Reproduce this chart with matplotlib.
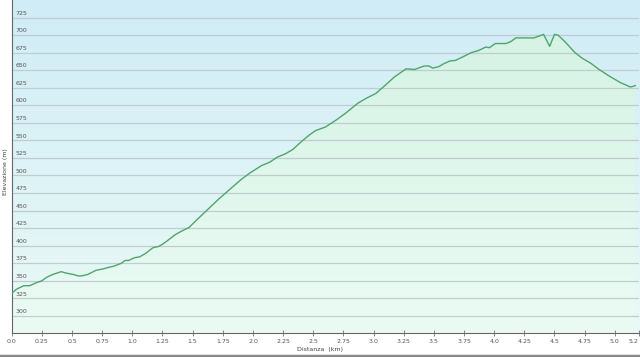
import numpy as np
import matplotlib
matplotlib.use("Agg")
import matplotlib.pyplot as plt
from matplotlib.colors import LinearSegmentedColormap

# distance (km) / elevation (m)
dist = [0.0, 0.04, 0.10, 0.15, 0.20, 0.25, 0.29, 0.34, 0.41, 0.45, 0.51, 0.55, 0.58,
        0.63, 0.70, 0.76, 0.80, 0.85, 0.91, 0.94, 0.97, 1.02, 1.06, 1.11, 1.17, 1.22,
        1.25, 1.29, 1.35, 1.40, 1.47, 1.56, 1.64, 1.72, 1.90, 1.97, 2.07, 2.14, 2.20,
        2.27, 2.33, 2.40, 2.47, 2.52, 2.60, 2.69, 2.77, 2.87, 2.94, 3.02, 3.10, 3.17,
        3.27, 3.34, 3.42, 3.46, 3.49, 3.54, 3.58, 3.63, 3.68, 3.74, 3.81, 3.87, 3.93,
        3.96, 4.01, 4.10, 4.14, 4.18, 4.33, 4.41, 4.46, 4.50, 4.53, 4.59, 4.67, 4.73,
        4.80, 4.87, 4.96, 5.05, 5.13, 5.17]
elev = [332, 338, 343, 343, 347, 350, 355, 359, 363, 361, 359, 357, 357,
        359, 365, 367, 369, 371, 375, 379, 379, 383, 384, 389, 397, 399,
        402, 407, 415, 420, 426, 441, 454, 467, 494, 503, 514, 519, 526,
        531, 537, 548, 558, 564, 569, 579, 589, 603, 610, 617, 629, 640,
        652, 651, 656, 656, 653, 655, 659, 663, 664, 669, 675, 678, 683,
        682, 688, 688, 691, 696, 696, 701, 684, 701, 700, 690, 675, 667,
        660, 651, 641, 632, 626, 628]

x_ticks = [0.0, 0.25, 0.5, 0.75, 1.0, 1.25, 1.5, 1.75, 2.0, 2.25, 2.5, 2.75,
           3.0, 3.25, 3.5, 3.75, 4.0, 4.25, 4.5, 4.75, 5.0, 5.2]
y_ticks = list(range(300, 726, 25))

x_min, x_max = 0.0, 5.2
y_min, y_max = 275, 750

fig = plt.figure(figsize=(6.4, 3.57), dpi=100)
fig.patch.set_facecolor("white")
ax = fig.add_axes([0.0183, 0.066, 0.98, 0.934])

# background gradient (sky blue at top -> mint at bottom)
bg = LinearSegmentedColormap.from_list("bg", ["#eafaf5", "#d0ecf7"])
grad = np.linspace(0, 1, 256).reshape(-1, 1)
ax.imshow(grad, cmap=bg, origin="lower", aspect="auto",
          extent=[x_min, x_max, y_min, y_max], zorder=0)

# green gradient under the profile
fill = ax.fill_between(dist, elev, y_min, facecolor="none", edgecolor="none", zorder=1)
fg = LinearSegmentedColormap.from_list("fg", ["#ebfbf4", "#d3f2e3"])
im = ax.imshow(grad, cmap=fg, origin="lower", aspect="auto",
               extent=[x_min, x_max, y_min, y_max], zorder=1)
im.set_clip_path(fill.get_paths()[0], transform=ax.transData)

for y in y_ticks:
    ax.axhline(y, color="#bfcdd2", lw=0.9, zorder=2)
    ax.text(0.03, y + 4, str(y), fontsize=4.5, color="#555555", zorder=3)

ax.plot(dist, elev, color="#4fa56c", lw=1.0, zorder=4)

ax.set_xlim(x_min, x_max)
ax.set_ylim(y_min, y_max)
ax.set_xticks(x_ticks)
ax.set_xticklabels([str(t) for t in x_ticks], fontsize=4.5, color="#555555")
ax.get_xticklabels()[-1].set_horizontalalignment("right")
ax.set_yticks([])
ax.tick_params(axis="x", direction="inout", length=4, width=0.6, color="#777777", pad=2)

for side in ["top", "right"]:
    ax.spines[side].set_visible(False)
ax.spines["left"].set_color("#666666")
ax.spines["bottom"].set_color("#666666")
ax.spines["left"].set_linewidth(0.8)
ax.spines["bottom"].set_linewidth(0.8)

fig.text(0.5, 0.022, "Distanza  (km)", fontsize=4.5, color="#444444", ha="center", va="center")
fig.text(0.008, 0.52, "Elevazione (m)", fontsize=4.5, color="#444444", ha="center",
         va="center", rotation=90)

# grey border line at the bottom edge
fig.add_artist(plt.Line2D([0, 1], [0.004, 0.004], color="#888888", lw=2.5,
                          transform=fig.transFigure))

fig.savefig("out.png", dpi=100)
